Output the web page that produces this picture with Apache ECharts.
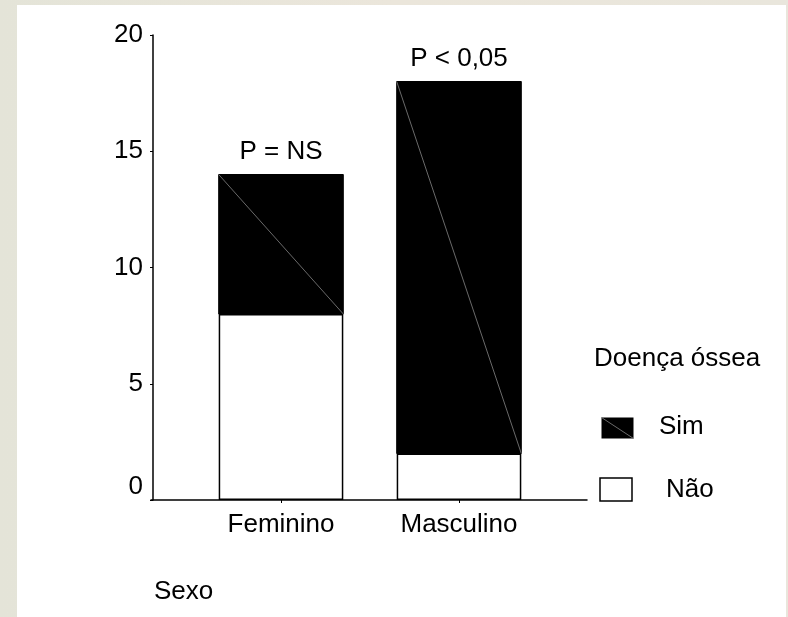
<!DOCTYPE html>
<html>
<head>
<meta charset="utf-8">
<script src="https://cdn.jsdelivr.net/npm/echarts@6/dist/echarts.min.js"></script>
<style>
  html, body { margin: 0; padding: 0; width: 788px; height: 617px; overflow: hidden;
    background: linear-gradient(90deg, #e4e4d8 0%, #ebe6db 50%, #e9e6dc 100%); }
  #panel { position: absolute; left: 17px; top: 5px; width: 769px; height: 612px; background: #ffffff; }
  #chart { position: absolute; left: 0; top: 0; width: 788px; height: 617px; }
</style>
</head>
<body>
<div id="panel"></div>
<div id="chart"></div>
<script>
// Bone disease by sex: counts of "Não" (base) and "Sim" (stacked on top)
const categories = ['Feminino', 'Masculino'];
const naoValues = [8, 2];
const simValues = [6, 16];
const pLabels = ['P = NS', 'P < 0,05'];
const yTicks = [0, 5, 10, 15, 20];

const FONT = 'Liberation Sans, Arial, sans-serif';
const FS = 26;

const chart = echarts.init(document.getElementById('chart'), null, { renderer: 'canvas' });

const simData = categories.map((c, i) => [i, naoValues[i], naoValues[i] + simValues[i]]);

chart.setOption({
  backgroundColor: 'transparent',
  animation: false,
  grid: [
    { left: 192, right: 240, top: 35, bottom: 117 },
    { left: 151, right: 201, top: 35, bottom: 117 }
  ],
  xAxis: [
    {
      type: 'category', gridIndex: 0, data: categories,
      axisLine: { show: false },
      axisTick: { show: true, alignWithLabel: true, length: 3, lineStyle: { color: '#000', width: 1 } },
      axisLabel: { color: '#000', fontFamily: FONT, fontSize: FS, margin: 12 }
    },
    {
      type: 'value', gridIndex: 1, min: 0, max: 1,
      axisLine: { show: true, lineStyle: { color: '#000', width: 1.5 } },
      axisTick: { show: false }, axisLabel: { show: false }, splitLine: { show: false }
    }
  ],
  yAxis: [
    {
      type: 'value', gridIndex: 0, min: yTicks[0], max: yTicks[yTicks.length - 1], interval: 5,
      offset: 39,
      axisLine: { show: true, lineStyle: { color: '#000', width: 1.5 } },
      axisTick: { show: true, length: 3, lineStyle: { color: '#000', width: 1 } },
      axisLabel: {
        color: '#000', fontFamily: FONT, fontSize: FS, margin: 10,
        // the zero label sits a little above the baseline
        formatter: function (v) { return v === 0 ? '{z|0}' : String(v); },
        rich: { z: { color: '#000', fontFamily: FONT, fontSize: FS, padding: [0, 0, 26, 0] } }
      },
      splitLine: { show: false }
    },
    { type: 'value', gridIndex: 1, show: false, min: 0, max: 1 }
  ],
  series: [
    {
      name: 'Não', type: 'bar', xAxisIndex: 0, yAxisIndex: 0,
      data: naoValues, barWidth: '70%',
      itemStyle: { color: '#ffffff', borderColor: '#000', borderWidth: 1.5 }
    },
    {
      name: 'Sim', type: 'custom', xAxisIndex: 0, yAxisIndex: 0,
      data: simData,
      renderItem: function (params, api) {
        const idx = api.value(0);
        const bottom = api.coord([idx, api.value(1)]);
        const top = api.coord([idx, api.value(2)]);
        const w = api.size([1, 0])[0] * 0.7;
        const x0 = bottom[0] - w / 2;
        return {
          type: 'group',
          children: [
            { type: 'rect', shape: { x: x0, y: top[1], width: w, height: bottom[1] - top[1] },
              style: { fill: '#000', stroke: '#000', lineWidth: 1 } },
            { type: 'line', shape: { x1: x0, y1: top[1], x2: x0 + w, y2: bottom[1] },
              style: { stroke: '#6a6a6a', lineWidth: 1 } },
            { type: 'text', x: bottom[0], y: top[1] - 23,
              style: { text: pLabels[idx], fill: '#000', font: FS + 'px ' + FONT,
                       textAlign: 'center', textVerticalAlign: 'middle' } }
          ]
        };
      }
    }
  ],
  graphic: [
    { type: 'text', left: 594, top: 346,
      style: { text: 'Doença óssea', fill: '#000', font: FS + 'px ' + FONT } },
    { type: 'group', left: 599, top: 415, children: [
      { type: 'rect', shape: { x: 0, y: 0, width: 32, height: 21 }, style: { fill: '#000' } },
      { type: 'line', shape: { x1: 0, y1: 0, x2: 32, y2: 21 }, style: { stroke: '#6a6a6a', lineWidth: 1 } }
    ] },
    { type: 'text', left: 659, top: 414,
      style: { text: 'Sim', fill: '#000', font: FS + 'px ' + FONT } },
    { type: 'rect', shape: { x: 600, y: 478, width: 32, height: 23 },
      style: { fill: '#fff', stroke: '#000', lineWidth: 1.5 } },
    { type: 'text', left: 666, top: 477,
      style: { text: 'Não', fill: '#000', font: FS + 'px ' + FONT } },
    { type: 'text', left: 154, top: 579,
      style: { text: 'Sexo', fill: '#000', font: FS + 'px ' + FONT } }
  ]
});
</script>
</body>
</html>
